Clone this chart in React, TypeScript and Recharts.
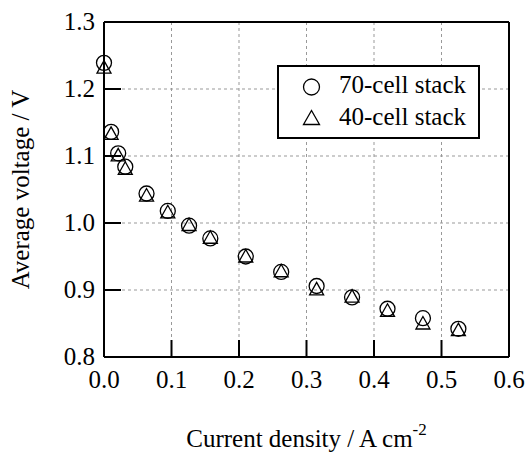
import React from "react";
import {
  ScatterChart,
  Scatter,
  XAxis,
  YAxis,
  CartesianGrid,
  ReferenceLine,
  Legend,
  Label
} from "recharts";

const currentDensity = [0, 0.0105, 0.021, 0.0315, 0.063, 0.0945, 0.126, 0.1575, 0.21, 0.2625, 0.315, 0.3675, 0.42, 0.4725, 0.525];
const voltage70 = [1.239, 1.136, 1.104, 1.084, 1.044, 1.018, 0.996, 0.977, 0.95, 0.927, 0.906, 0.889, 0.872, 0.858, 0.842];
const voltage40 = [1.232, 1.133, 1.101, 1.081, 1.041, 1.016, 0.997, 0.978, 0.95, 0.928, 0.901, 0.89, 0.869, 0.85, 0.84];

const xTicks = [0, 0.1, 0.2, 0.3, 0.4, 0.5, 0.6];
const yTicks = [0.8, 0.9, 1.0, 1.1, 1.2, 1.3];

const SERIES_70 = "70-cell stack";
const SERIES_40 = "40-cell stack";
const legendOrder = [SERIES_70, SERIES_40];

const data70 = currentDensity.map((x, i) => ({ x, v: voltage70[i] }));
const data40 = currentDensity.map((x, i) => ({ x, v: voltage40[i] }));

const FONT = "Liberation Serif";
const TICK_LEN = 17;

const CircleMark = (p: any) => (
  <circle cx={p.cx} cy={p.cy} r={7.5} fill="none" stroke="#000" strokeWidth={1.3} />
);

const TriangleMark = (p: any) => (
  <polygon
    points={`${p.cx},${p.cy - 7} ${p.cx - 7},${p.cy + 5.5} ${p.cx + 7},${p.cy + 5.5}`}
    fill="none"
    stroke="#000"
    strokeWidth={1.3}
  />
);

const XTick = (p: any) => {
  const { x, y, payload } = p;
  return (
    <g>
      <line x1={x} x2={x} y1={y} y2={y - TICK_LEN} stroke="#000" strokeWidth={2} />
      <text x={x} y={y + 31} textAnchor="middle" style={{ fontFamily: FONT }} fontSize={25} fill="#000">
        {payload.value.toFixed(1)}
      </text>
    </g>
  );
};

const YTick = (p: any) => {
  const { x, y, payload } = p;
  return (
    <g>
      <line x1={x} x2={x + TICK_LEN} y1={y} y2={y} stroke="#000" strokeWidth={2} />
      <text x={x - 9} y={y + 8} textAnchor="end" style={{ fontFamily: FONT }} fontSize={25} fill="#000">
        {payload.value.toFixed(1)}
      </text>
    </g>
  );
};

const XTitle = (p: any) => {
  const vb = p.viewBox;
  return (
    <text x={vb.x + vb.width / 2} y={vb.y + 90} textAnchor="middle" style={{ fontFamily: FONT }} fontSize={25} fill="#000">
      Current density / A cm
      <tspan dy={-12} fontSize={17}>-2</tspan>
    </text>
  );
};

const YTitle = (p: any) => {
  const vb = p.viewBox;
  const cx = vb.x + vb.width - 75;
  const cy = vb.y + vb.height / 2;
  return (
    <text
      x={cx}
      y={cy}
      transform={`rotate(-90 ${cx} ${cy})`}
      textAnchor="middle"
      style={{ fontFamily: FONT }}
      fontSize={25}
      fill="#000"
    >
      Average voltage / V
    </text>
  );
};

const LegendBox = () => (
  <div style={{ width: "100%", height: "100%", fontFamily: FONT, fontSize: 25, color: "#000", paddingTop: 1.6, boxSizing: "border-box" }}>
    {legendOrder.map((name) => (
      <div key={name} style={{ position: "relative", height: 32 }}>
        <svg width={40} height={32} style={{ position: "absolute", left: 12, top: 0 }}>
          {name === SERIES_70 ? (
            <circle cx={20.5} cy={18} r={8} fill="none" stroke="#000" strokeWidth={1.3} />
          ) : (
            <polygon points="20.5,9.5 12.5,23.5 28.5,23.5" fill="none" stroke="#000" strokeWidth={1.3} />
          )}
        </svg>
        <span style={{ position: "absolute", left: 60, top: 0, lineHeight: "32px", whiteSpace: "nowrap", fontFamily: FONT }}>
          {name}
        </span>
      </div>
    ))}
  </div>
);

export default function App() {
  return (
    <div style={{ position: "absolute", left: 0, top: 0, width: 527, height: 458, background: "#fff", fontFamily: FONT }}>
      <ScatterChart width={527} height={458} margin={{ top: 22, right: 18, bottom: 71, left: 44 }} style={{ fontFamily: FONT }}>
        <CartesianGrid stroke="#999" strokeDasharray="3 3" strokeWidth={1} />
        <ReferenceLine y={1.3} stroke="#000" strokeWidth={2} />
        <ReferenceLine x={0.6} stroke="#000" strokeWidth={2} />
        <XAxis
          type="number"
          dataKey="x"
          domain={[0, 0.6]}
          ticks={xTicks}
          interval={0}
          height={30}
          tickSize={0}
          tickMargin={0}
          tickLine={false}
          axisLine={{ stroke: "#000", strokeWidth: 2 }}
          tick={<XTick />}
        >
          <Label content={<XTitle />} />
        </XAxis>
        <YAxis
          type="number"
          dataKey="v"
          domain={[0.8, 1.3]}
          ticks={yTicks}
          interval={0}
          width={60}
          tickSize={0}
          tickMargin={0}
          tickLine={false}
          axisLine={{ stroke: "#000", strokeWidth: 2 }}
          tick={<YTick />}
        >
          <Label content={<YTitle />} />
        </YAxis>
        <Legend
          layout="vertical"
          align="center"
          verticalAlign="middle"
          content={<LegendBox />}
          wrapperStyle={{
            left: 277,
            top: 65,
            width: 203,
            height: 74,
            border: "2px solid #000",
            boxSizing: "border-box",
            background: "#fff"
          }}
        />
        <Scatter name={SERIES_70} data={data70} shape={CircleMark} isAnimationActive={false} />
        <Scatter name={SERIES_40} data={data40} shape={TriangleMark} isAnimationActive={false} />
      </ScatterChart>
    </div>
  );
}
